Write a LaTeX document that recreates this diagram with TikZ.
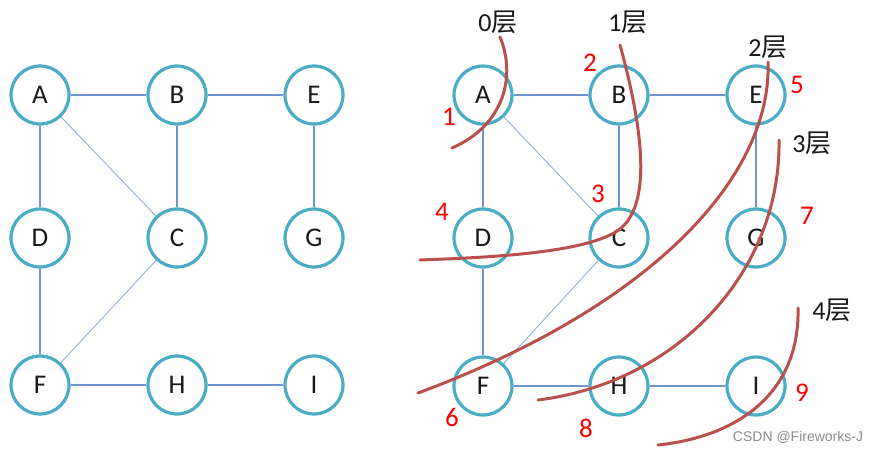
\documentclass[tikz,border=0pt]{standalone}
\usepackage{fontspec}
\setmainfont{Carlito}
\newfontfamily\cjk{Noto Sans CJK SC}
\newfontfamily\wmfont{Liberation Sans}
\begin{document}
\begin{tikzpicture}[x=1pt,y=-1pt,
  vtx/.style={circle,draw=vcol,line width=3.2pt,fill=white,minimum size=58pt,inner sep=0pt,font=\fontsize{27}{30}\selectfont,text=black!90},
  edge/.style={draw=ecol,line width=1.3pt},
  diag/.style={draw=ecol!75,line width=0.9pt},
  cut/.style={draw=rcol,line width=3pt,line cap=round},
  lay/.style={font=\fontsize{26}{30}\selectfont,text=black!90,inner sep=0pt},
  ord/.style={font=\fontsize{27}{30}\selectfont,text=red,inner sep=0pt}]
\definecolor{vcol}{RGB}{75,172,198}
\definecolor{ecol}{RGB}{110,148,205}
\definecolor{rcol}{RGB}{185,80,76}
\useasboundingbox (0,0) rectangle (885,453);
\fill[white] (0,0) rectangle (885,453);
% left graph
\node[vtx] (lA) at (40,95) {A};
\node[vtx] (lB) at (177,95) {B};
\node[vtx] (lE) at (314,95) {E};
\node[vtx] (lD) at (40,238) {D};
\node[vtx] (lC) at (177,238) {C};
\node[vtx] (lG) at (314,238) {G};
\node[vtx] (lF) at (40,385) {F};
\node[vtx] (lH) at (177,385) {H};
\node[vtx] (lI) at (314,385) {I};
\draw[edge] (lA) -- (lB);
\draw[edge] (lB) -- (lE);
\draw[edge] (lA) -- (lD);
\draw[edge] (lB) -- (lC);
\draw[edge] (lE) -- (lG);
\draw[edge] (lD) -- (lF);
\draw[edge] (lF) -- (lH);
\draw[edge] (lH) -- (lI);
\draw[diag] (lA) -- (lC);
\draw[diag] (lC) -- (lF);
% right graph
\node[vtx] (A) at (483,95) {A};
\node[vtx] (B) at (619,95) {B};
\node[vtx] (E) at (756,95) {E};
\node[vtx] (D) at (483,238) {D};
\node[vtx] (C) at (619,238) {C};
\node[vtx] (G) at (756,238) {G};
\node[vtx] (F) at (483,386) {F};
\node[vtx] (H) at (619,386) {H};
\node[vtx] (I) at (756,386) {I};
\draw[edge] (A) -- (B);
\draw[edge] (B) -- (E);
\draw[edge] (A) -- (D);
\draw[edge] (B) -- (C);
\draw[edge] (E) -- (G);
\draw[edge] (D) -- (F);
\draw[edge] (F) -- (H);
\draw[edge] (H) -- (I);
\draw[diag] (A) -- (C);
\draw[diag] (C) -- (F);
% layer cuts
\coordinate (c0a) at (500,37);
\coordinate (c0b) at (452,148);
\draw[cut] (c0a) .. controls (516,75) and (505,125) .. (c0b);
\coordinate (c1a) at (620,45);
\coordinate (c1m) at (612,234);
\coordinate (c1b) at (420,260);
\draw[cut] (c1a) .. controls (646,140) and (652,215) .. (c1m) .. controls (572,255) and (470,258) .. (c1b);
\coordinate (c2a) at (768,62);
\coordinate (c2b) at (418,393);
\draw[cut] (c2a) .. controls (772,175) and (655,305) .. (c2b);
\coordinate (c3a) at (779,140);
\coordinate (c3b) at (538,400);
\draw[cut] (c3a) .. controls (781,270) and (680,382) .. (c3b);
\coordinate (c4a) at (798,308);
\coordinate (c4b) at (658,445);
\draw[cut] (c4a) .. controls (800,390) and (742,436) .. (c4b);
% layer labels
\node[lay] (L0) at (498,22) {0{\cjk 层}};
\node[lay] (L1) at (628,22) {1{\cjk 层}};
\node[lay] (L2) at (768,47) {2{\cjk 层}};
\node[lay] (L3) at (812,143) {3{\cjk 层}};
\node[lay] (L4) at (832,310) {4{\cjk 层}};
% visiting order
\node[ord] (o1) at (449,117) {1};
\node[ord] (o2) at (590,63) {2};
\node[ord] (o3) at (598,194) {3};
\node[ord] (o4) at (442,212) {4};
\node[ord] (o5) at (797,85) {5};
\node[ord] (o6) at (452,417) {6};
\node[ord] (o7) at (807,216) {7};
\node[ord] (o8) at (586,428) {8};
\node[ord] (o9) at (802,393) {9};
% watermark
\node[font=\wmfont\fontsize{14}{16}\selectfont,text=black!45,inner sep=0pt] (wm) at (798,437) {CSDN @Fireworks-J};
\end{tikzpicture}
\end{document}
